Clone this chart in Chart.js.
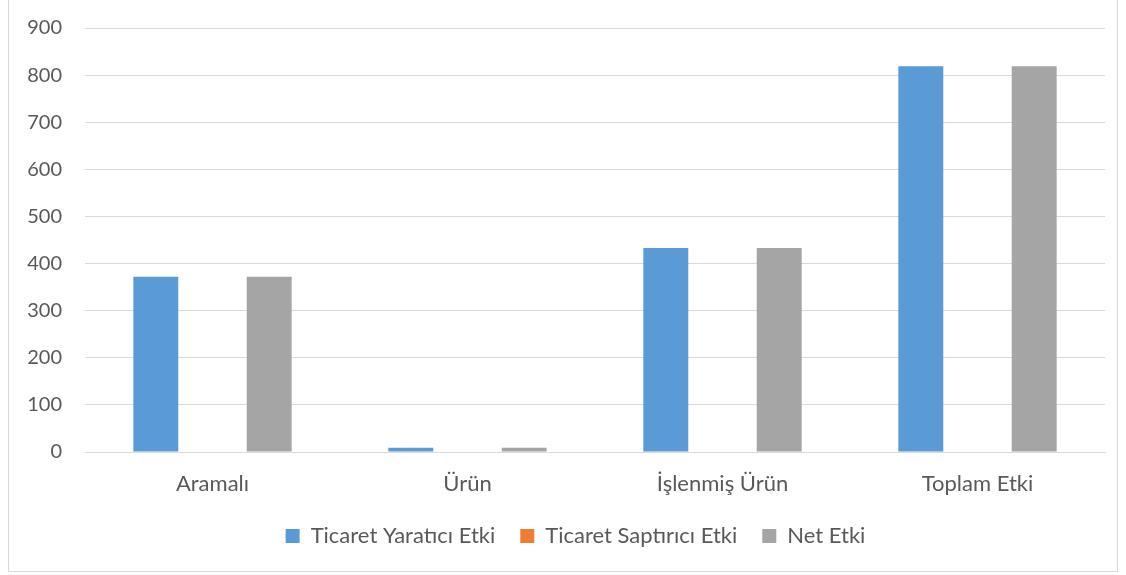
<!DOCTYPE html>
<html>
<head>
<meta charset="utf-8">
<script src="https://cdn.jsdelivr.net/npm/chart.js@4.4.1/dist/chart.umd.min.js"></script>
<style>
  html, body { margin: 0; padding: 0; background: #fff; }
  #frame { position: absolute; left: 8px; top: -1px; width: 1110px; height: 573px; border: 1px solid #d9d9d9; box-sizing: border-box; }
  #wrap { position: absolute; left: 0; top: 0; width: 1126px; height: 575px; }
</style>
</head>
<body>
<div id="frame"></div>
<div id="wrap"><canvas id="c" width="1126" height="575"></canvas></div>
<script>
const categories = ["Aramalı", "Ürün", "İşlenmiş Ürün", "Toplam Etki"];
const seriesNames = ["Ticaret Yaratıcı Etki", "Ticaret Saptırıcı Etki", "Net Etki"];
const ticaretYaratici = [372, 9, 433, 819];
const ticaretSaptirici = [0, 0, 0, 0];
const netEtki = [372, 9, 433, 819];
const yTicks = [0, 100, 200, 300, 400, 500, 600, 700, 800, 900];
const colors = ["#5b9bd5", "#ed7d31", "#a5a5a5"];

const FONT = "Lato, 'Open Sans', sans-serif";

const legendShift = {
  id: 'legendShift',
  afterLayout(chart) {
    if (chart.legend) { chart.legend.left += 13; chart.legend.right += 13; }
  }
};

new Chart(document.getElementById('c'), {
  type: 'bar',
  data: {
    labels: categories,
    datasets: [
      { label: seriesNames[0], data: ticaretYaratici, backgroundColor: colors[0] },
      { label: seriesNames[1], data: ticaretSaptirici, backgroundColor: colors[1] },
      { label: seriesNames[2], data: netEtki, backgroundColor: colors[2] }
    ]
  },
  plugins: [legendShift],
  options: {
    responsive: false,
    animation: false,
    events: [],
    datasets: { bar: { categoryPercentage: 0.667, barPercentage: 0.793 } },
    layout: { padding: { top: 16, right: 21, bottom: 18, left: 20 } },
    plugins: {
      tooltip: { enabled: false },
      legend: {
        position: 'bottom',
        labels: {
          boxWidth: 14, boxHeight: 14, padding: 25,
          color: '#595959',
          font: { family: FONT, size: 22 }
        }
      }
    },
    scales: {
      x: {
        grid: { display: false, drawTicks: false },
        border: { display: true, color: '#d9d9d9' },
        ticks: { color: '#595959', font: { family: FONT, size: 22 }, padding: 19 },
        afterFit: (s) => { s.height = 48; }
      },
      y: {
        min: 0, max: 900,
        afterBuildTicks: (s) => { s.ticks = yTicks.map(v => ({ value: v })); },
        grid: { color: '#d9d9d9', lineWidth: 1, drawTicks: false },
        border: { display: false },
        ticks: { color: '#595959', font: { family: FONT, size: 20, lineHeight: 0.5 }, padding: 23 },
        afterFit: (s) => { s.width = 65; }
      }
    }
  }
});
</script>
</body>
</html>
